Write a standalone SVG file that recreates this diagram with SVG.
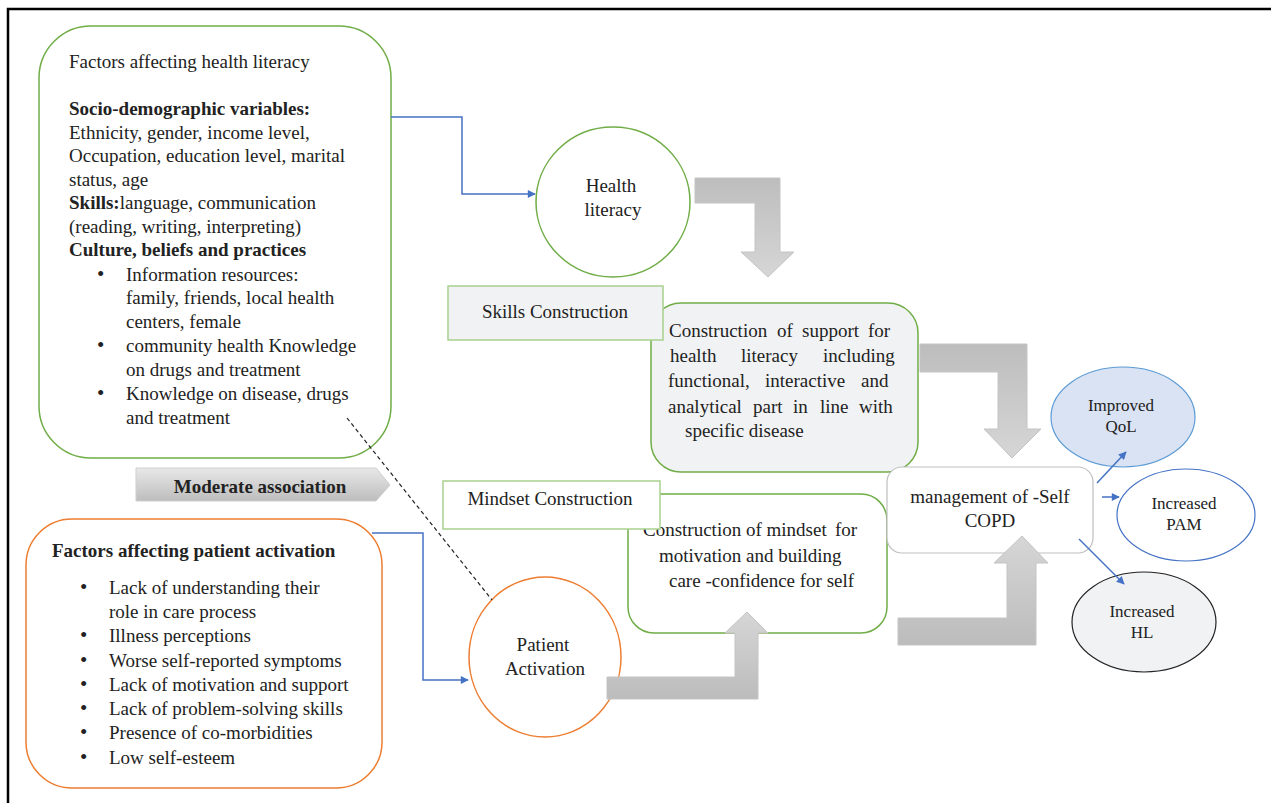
<svg xmlns="http://www.w3.org/2000/svg" width="1271" height="803" viewBox="0 0 1271 803">
<defs>
<style>
text{font-family:"Liberation Serif","Times New Roman",serif;font-size:19px;fill:#222}
.b{font-weight:bold}
.s{font-size:17px}
.c{text-anchor:middle}
.bu{font-size:21px}
.conn{fill:none;stroke:#4472c4;stroke-width:1.5}
.garrow{stroke:#c4c4c4;stroke-width:1}
</style>
<linearGradient id="gDown" x1="0" y1="0" x2="0" y2="1">
<stop offset="0" stop-color="#bdbdbd"/><stop offset="1" stop-color="#d6d6d6"/>
</linearGradient>
<linearGradient id="gUp" x1="0" y1="0" x2="0" y2="1">
<stop offset="0" stop-color="#d6d6d6"/><stop offset="1" stop-color="#bcbcbc"/>
</linearGradient>
<linearGradient id="gMod" x1="0" y1="0" x2="0" y2="1">
<stop offset="0" stop-color="#e8e8e8"/><stop offset="1" stop-color="#bdbdbd"/>
</linearGradient>
<marker id="ah" viewBox="0 0 10 10" refX="9" refY="5" markerWidth="9" markerHeight="8" markerUnits="userSpaceOnUse" orient="auto">
<path d="M0,0 L10,5 L0,10 z" fill="#4472c4"/>
</marker>
</defs>
<rect width="1271" height="803" fill="#fff"/>
<path d="M8,803 L8,9 L1271,9" fill="none" stroke="#000" stroke-width="2.5"/>

<g id="factors-hl">
<rect x="39" y="26" width="352" height="432" rx="52" fill="#fff" stroke="#70ad47" stroke-width="1.5"/>
<text x="69" y="68">Factors affecting health literacy</text>
<text x="69" y="115" class="b">Socio-demographic variables:</text>
<text x="69" y="139">Ethnicity, gender, income level,</text>
<text x="69" y="162">Occupation, education level, marital</text>
<text x="69" y="186">status, age</text>
<text x="69" y="209"><tspan class="b">Skills:</tspan>language, communication</text>
<text x="69" y="233">(reading, writing, interpreting)</text>
<text x="69" y="256" class="b">Culture, beliefs and practices</text>
<text x="97" y="281" class="bu">•</text><text x="126" y="281">Information resources:</text>
<text x="126" y="304">family, friends, local health</text>
<text x="126" y="328">centers, female</text>
<text x="97" y="352" class="bu">•</text><text x="126" y="352">community health Knowledge</text>
<text x="126" y="376">on drugs and treatment</text>
<text x="97" y="400" class="bu">•</text><text x="126" y="400">Knowledge on disease, drugs</text>
<text x="126" y="424">and treatment</text>
</g>

<g id="factors-pa">
<rect x="26" y="519" width="356" height="269" rx="46" fill="#fff" stroke="#ed7d31" stroke-width="1.5"/>
<text x="52" y="557" class="b">Factors affecting patient activation</text>
<text x="80" y="594" class="bu">•</text><text x="109" y="594">Lack of understanding their</text>
<text x="109" y="618">role in care process</text>
<text x="80" y="642" class="bu">•</text><text x="109" y="642">Illness perceptions</text>
<text x="80" y="667" class="bu">•</text><text x="109" y="667">Worse self-reported symptoms</text>
<text x="80" y="691" class="bu">•</text><text x="109" y="691">Lack of motivation and support</text>
<text x="80" y="715" class="bu">•</text><text x="109" y="715">Lack of problem-solving skills</text>
<text x="80" y="739" class="bu">•</text><text x="109" y="739">Presence of co-morbidities</text>
<text x="80" y="764" class="bu">•</text><text x="109" y="764">Low self-esteem</text>
</g>

<g id="moderate-association">
<polygon points="136,468 376,468 390,485 376,501 136,501" fill="url(#gMod)" stroke="#cfcfcf" stroke-width="1"/>
<text x="260" y="493" class="b c">Moderate association</text>
</g>

<g id="health-literacy">
<ellipse cx="613" cy="202" rx="77" ry="75" fill="#fff" stroke="#70ad47" stroke-width="1.5"/>
<text x="611" y="192" class="c">Health</text>
<text x="613" y="216" class="c">literacy</text>
</g>

<g id="support-box">
<rect x="651" y="303" width="267" height="169" rx="30" fill="#f1f2f4" stroke="#70ad47" stroke-width="1.5"/>
<text y="337"><tspan x="669">Construction</tspan><tspan x="777">of</tspan><tspan x="802">support</tspan><tspan x="868">for</tspan></text>
<text y="362"><tspan x="670">health</tspan><tspan x="741">literacy</tspan><tspan x="823">including</tspan></text>
<text y="387"><tspan x="668">functional,</tspan><tspan x="765">interactive</tspan><tspan x="861">and</tspan></text>
<text y="413"><tspan x="668">analytical</tspan><tspan x="753">part</tspan><tspan x="793">in</tspan><tspan x="820">line</tspan><tspan x="859">with</tspan></text>
<text x="685" y="437">specific disease</text>
</g>

<g id="skills-construction">
<rect x="448" y="286" width="215" height="54" fill="#f1f2f4" stroke="#a9d18e" stroke-width="1.5"/>
<text x="555" y="318" class="c">Skills Construction</text>
</g>

<g id="mindset-box">
<rect x="628" y="494" width="259" height="139" rx="26" fill="#fff" stroke="#70ad47" stroke-width="1.5"/>
<text y="536"><tspan x="643">Construction of mindset</tspan><tspan x="835">for</tspan></text>
<text x="659" y="562">motivation and building</text>
<text x="669" y="587">care -confidence for self</text>
</g>

<g id="mindset-construction">
<rect x="443" y="481" width="217" height="48" fill="#fff" stroke="#a9d18e" stroke-width="1.5"/>
<text x="550" y="505" class="c">Mindset Construction</text>
</g>

<g id="patient-activation">
<ellipse cx="545" cy="657" rx="76" ry="80" fill="#fff" stroke="#ed7d31" stroke-width="1.5"/>
<text x="543" y="651" class="c">Patient</text>
<text x="545" y="675" class="c">Activation</text>
</g>

<g id="self-management">
<rect x="887" y="467" width="206" height="86" rx="15" fill="#fff" stroke="#bfbfbf" stroke-width="1.2"/>
<text x="990" y="503" class="c">management of -Self</text>
<text x="990" y="527" class="c">COPD</text>
</g>

<g id="improved-qol">
<ellipse cx="1123" cy="417" rx="72" ry="50" fill="#dae3f3" stroke="#5b9bd5" stroke-width="1.2"/>
<text x="1121" y="411" class="s c">Improved</text>
<text x="1121" y="432" class="s c">QoL</text>
</g>

<g id="increased-pam">
<ellipse cx="1186" cy="515" rx="69" ry="46" fill="#fff" stroke="#4472c4" stroke-width="1.2"/>
<text x="1184" y="509" class="s c">Increased</text>
<text x="1184" y="530" class="s c">PAM</text>
</g>

<g id="increased-hl">
<ellipse cx="1144" cy="622" rx="72" ry="50" fill="#f1f2f4" stroke="#222" stroke-width="1.2"/>
<text x="1142" y="617" class="s c">Increased</text>
<text x="1142" y="638" class="s c">HL</text>
</g>

<g id="connectors">
<polyline class="conn" points="391,117 462,117 462,194 535,194" marker-end="url(#ah)"/>
<polyline class="conn" points="372,533 423,533 423,680 468,680" marker-end="url(#ah)"/>
<line x1="347" y1="418" x2="492" y2="600" stroke="#222" stroke-width="1.2" stroke-dasharray="4,3"/>
<polygon class="garrow" points="695,178 780,178 780,252 794,252 768,277 741,252 755,252 755,203 695,203" fill="url(#gDown)"/>
<polygon class="garrow" points="920,344 1027,344 1027,429 1041,429 1012,458 984,429 998,429 998,372 920,372" fill="url(#gDown)"/>
<polygon class="garrow" points="898,618 1007,618 1007,563 994,563 1022,536 1048,563 1036,563 1036,645 898,645" fill="url(#gUp)"/>
<polygon class="garrow" points="607,677 735,677 735,633 725,633 747,612 768,633 758,633 758,699 607,699" fill="url(#gUp)"/>
<line class="conn" x1="1097" y1="483" x2="1126" y2="452" marker-end="url(#ah)"/>
<line class="conn" x1="1102" y1="497" x2="1119" y2="497" marker-end="url(#ah)"/>
<line class="conn" x1="1079" y1="539" x2="1124" y2="584" marker-end="url(#ah)"/>
</g>
</svg>
